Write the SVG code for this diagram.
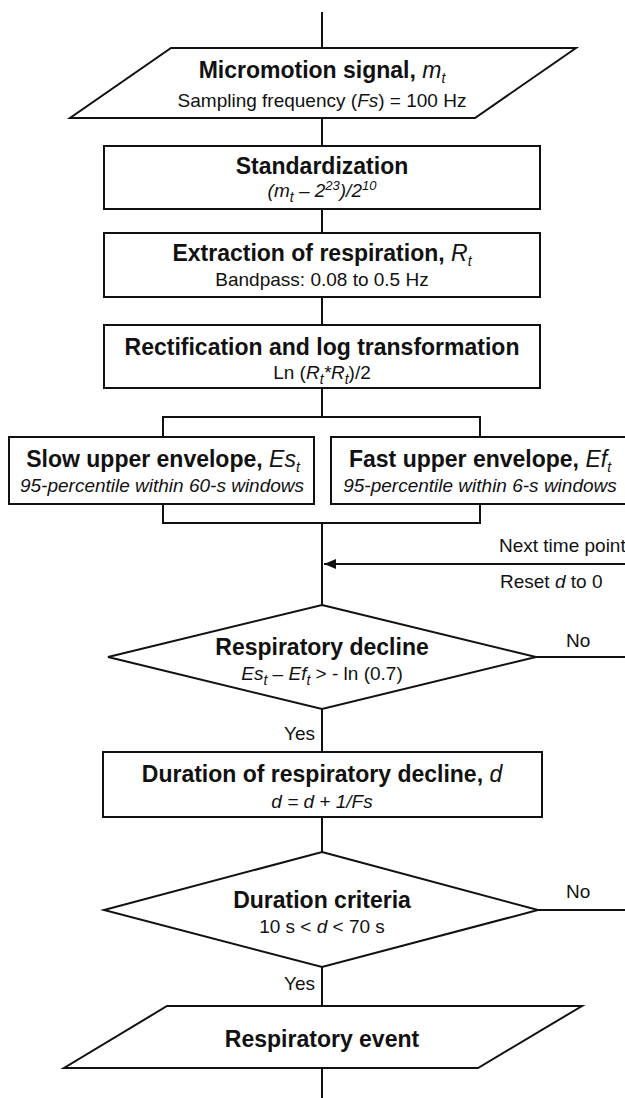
<svg xmlns="http://www.w3.org/2000/svg" width="625" height="1098" viewBox="0 0 625 1098">
<defs>
<marker id="arr" viewBox="0 0 12 10" refX="12" refY="5" markerWidth="12" markerHeight="10" markerUnits="userSpaceOnUse" orient="auto">
<path d="M0,0 L12,5 L0,10 Z" fill="#111"/>
</marker>
<style>
text{font-family:"Liberation Sans",Arial,sans-serif;fill:#111}
.t{font-size:23px;font-weight:bold;text-anchor:middle}
.s{font-size:19px;text-anchor:middle}
.l{font-size:19px}
.i{font-style:italic}
.n{font-weight:normal}
.sub{font-size:14px}
.sup{font-size:13px}
.shape{fill:#fff;stroke:#111;stroke-width:2}
.c{fill:none;stroke:#111;stroke-width:2}
</style>
</defs>
<rect width="625" height="1098" fill="#fff"/>
<g id="connectors">
<path class="c" d="M322,12 V48"/>
<path class="c" d="M322,118 V146"/>
<path class="c" d="M322,209 V233"/>
<path class="c" d="M322,297 V325"/>
<path class="c" d="M322,388 V417"/>
<path class="c" d="M163,437 V417 H480 V437"/>
<path class="c" d="M163,504 V523 H480 V504"/>
<path class="c" d="M322,523 V605"/>
<path class="c" d="M625,564 H324" marker-end="url(#arr)"/>
<path class="c" d="M322,709 V752"/>
<path class="c" d="M536,657 H625"/>
<path class="c" d="M322,817 V852"/>
<path class="c" d="M538,910 H625"/>
<path class="c" d="M322,967 V1006"/>
<path class="c" d="M322,1068 V1098"/>
<text class="l" x="499" y="552">Next time point</text>
<text class="l" x="500" y="588">Reset <tspan class="i">d</tspan> to 0</text>
<text class="l" x="566" y="647">No</text>
<text class="l" x="566" y="898">No</text>
<text class="l" x="315" y="740" text-anchor="end">Yes</text>
<text class="l" x="315" y="990" text-anchor="end">Yes</text>
</g>
<g id="input">
<polygon class="shape" points="171,48 576,48 475,118 70,118"/>
<text class="t" x="322" y="78">Micromotion signal, <tspan class="i n">m</tspan><tspan class="i n sub" dy="5">t</tspan></text>
<text class="s" x="322" y="107">Sampling frequency (<tspan class="i">Fs</tspan>) = 100 Hz</text>
</g>
<g id="standardization">
<rect class="shape" x="104" y="146" width="436" height="63"/>
<text class="t" x="322" y="174">Standardization</text>
<text class="s i" x="322" y="197">(m<tspan class="sub" dy="5">t</tspan><tspan dy="-5"> – 2</tspan><tspan class="sup" dy="-7">23</tspan><tspan dy="7">)/2</tspan><tspan class="sup" dy="-7">10</tspan></text>
</g>
<g id="extraction">
<rect class="shape" x="104" y="233" width="436" height="64"/>
<text class="t" x="322" y="261">Extraction of respiration, <tspan class="i n">R</tspan><tspan class="i n sub" dy="5">t</tspan></text>
<text class="s" x="322" y="286">Bandpass: 0.08 to 0.5 Hz</text>
</g>
<g id="rectification">
<rect class="shape" x="104" y="325" width="436" height="63"/>
<text class="t" x="322" y="355">Rectification and log transformation</text>
<text class="s" x="322" y="379">Ln (<tspan class="i">R</tspan><tspan class="i sub" dy="5">t</tspan><tspan class="i" dy="-5">*R</tspan><tspan class="i sub" dy="5">t</tspan><tspan dy="-5">)/2</tspan></text>
</g>
<g id="slow-envelope">
<rect class="shape" x="9" y="437" width="305" height="67"/>
<text class="t" x="163" y="467">Slow upper envelope, <tspan class="i n">Es</tspan><tspan class="i n sub" dy="5">t</tspan></text>
<text class="s i" x="162" y="492">95-percentile within 60-s windows</text>
</g>
<g id="fast-envelope">
<rect class="shape" x="331" y="437" width="300" height="67"/>
<text class="t" x="480" y="467">Fast upper envelope, <tspan class="i n">Ef</tspan><tspan class="i n sub" dy="5">t</tspan></text>
<text class="s i" x="480" y="492">95-percentile within 6-s windows</text>
</g>
<g id="respiratory-decline">
<polygon class="shape" points="322,605 536,657 322,709 108,657"/>
<text class="t" x="322" y="655">Respiratory decline</text>
<text class="s" x="322" y="680"><tspan class="i">Es</tspan><tspan class="i sub" dy="5">t</tspan><tspan dy="-5"> – </tspan><tspan class="i">Ef</tspan><tspan class="i sub" dy="5">t</tspan><tspan dy="-5"> &gt; - ln (0.7)</tspan></text>
</g>
<g id="duration">
<rect class="shape" x="103" y="752" width="439" height="65"/>
<text class="t" x="322" y="782">Duration of respiratory decline, <tspan class="i n">d</tspan></text>
<text class="s i" x="322" y="808">d = d + 1/Fs</text>
</g>
<g id="duration-criteria">
<polygon class="shape" points="322,852 538,910 322,967 104,910"/>
<text class="t" x="322" y="908">Duration criteria</text>
<text class="s" x="322" y="933">10 s &lt; <tspan class="i">d</tspan> &lt; 70 s</text>
</g>
<g id="respiratory-event">
<polygon class="shape" points="167,1006 582,1006 478,1068 64,1068"/>
<text class="t" x="322" y="1047">Respiratory event</text>
</g>
</svg>
